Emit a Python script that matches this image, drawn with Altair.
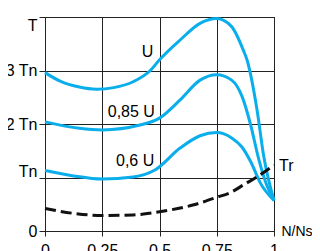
import altair as alt
import pandas as pd

# --- data ---
u_x = [0.0, 0.066, 0.15, 0.225, 0.3, 0.385, 0.46, 0.5, 0.59, 0.677, 0.75, 0.815, 0.866, 0.882, 0.926, 0.955, 1.0]
u_t = [2.96, 2.80, 2.69, 2.65, 2.68, 2.79, 3.0, 3.2, 3.57, 3.88, 3.97, 3.82, 3.38, 3.2, 2.26, 1.4, 0.57]

u85_x = [0.0, 0.15, 0.25, 0.415, 0.5, 0.59, 0.677, 0.75, 0.815, 0.86, 0.897, 0.933, 0.969, 1.0]
u85_t = [2.04, 1.92, 1.89, 1.98, 2.11, 2.45, 2.82, 2.92, 2.82, 2.52, 2.0, 1.35, 0.85, 0.57]

u60_x = [0.0, 0.124, 0.25, 0.385, 0.48, 0.59, 0.677, 0.75, 0.815, 0.86, 0.9, 0.94, 1.0]
u60_t = [1.13, 1.03, 0.97, 1.01, 1.14, 1.55, 1.78, 1.84, 1.74, 1.57, 1.28, 0.9, 0.57]

tr_x = [0.0, 0.124, 0.25, 0.385, 0.5, 0.65, 0.75, 0.815, 0.866, 0.94, 1.0]
tr_t = [0.42, 0.33, 0.29, 0.30, 0.36, 0.49, 0.63, 0.73, 0.86, 1.05, 1.23]

y_ticks = [0, 1, 2, 3, 4]
y_labels = ["0", "Tn", "2 Tn", "3 Tn", "T"]
x_ticks = [0, 0.25, 0.5, 0.75, 1]
x_labels = ["0", "0,25", "0,5", "0,75", "1"]

lab_text = ["U", "0,85 U", "0,6 U"]
lab_x = [0.473, 0.48, 0.477]
lab_t = [3.34, 2.22, 1.31]
tr_lab = ["Tr"]
tr_lab_x = [1.022]
tr_lab_t = [1.21]

# --- tables ---
rows = []
for name, xs, ts in [("U", u_x, u_t), ("0,85 U", u85_x, u85_t), ("0,6 U", u60_x, u60_t)]:
    for a, b in zip(xs, ts):
        rows.append({"x": a, "T": b, "s": name})
blue = pd.DataFrame(rows)
tr = pd.DataFrame({"x": tr_x, "T": tr_t})
labs = pd.DataFrame({"x": lab_x, "T": lab_t, "t": lab_text})
trl = pd.DataFrame({"x": tr_lab_x, "T": tr_lab_t, "t": tr_lab})

def label_expr(vals, labels):
    e = "''"
    for v, l in reversed(list(zip(vals, labels))):
        e = f"datum.value == {v} ? '{l}' : ({e})"
    return e

FONT = "Liberation Sans"

xs = alt.Scale(domain=[0, 1], nice=False)
ys = alt.Scale(domain=[0, 4], nice=False)

x_axis = alt.Axis(values=x_ticks, labelExpr=label_expr(x_ticks, x_labels),
                  grid=True, gridColor="#222222", gridWidth=1,
                  domainColor="#222222", tickColor="#222222", tickSize=5,
                  labelPadding=6, labelFont=FONT, labelFontSize=16, labelColor="black",
                  title="N/Ns", titleFont=FONT,
                  titleFontSize=14, titleFontWeight="normal",
                  titleColor="black", titleX=236, titleY=0, titleAlign="left",
                  titleBaseline="middle", labelFlush=False)
y_axis = alt.Axis(values=y_ticks, labelExpr=label_expr(y_ticks, y_labels),
                  grid=True, gridColor="#222222", gridWidth=1,
                  domainColor="#222222", tickColor="#222222", tickSize=6,
                  labelPadding=2, labelFont=FONT, labelFontSize=16, labelColor="black",
                  labelBaseline=alt.condition("datum.value == 4", alt.value("top"),
                                              alt.value("middle")),
                  labelOffset=alt.condition("datum.value == 1", alt.value(-6),
                                            alt.value(0)),
                  labelFlush=False)

base_x = alt.X("x:Q", scale=xs, axis=x_axis)
base_y = alt.Y("T:Q", scale=ys, axis=y_axis, title=None)

blue_lines = alt.Chart(blue).mark_line(color="#0AAEEB", strokeWidth=3,
                                       interpolate="monotone").encode(
    x=base_x, y=base_y, detail="s:N")
tr_line = alt.Chart(tr).mark_line(color="#111111", strokeWidth=3, strokeDash=[11, 5],
                                  interpolate="monotone").encode(
    x=alt.X("x:Q", scale=xs), y=alt.Y("T:Q", scale=ys))
text1 = alt.Chart(labs).mark_text(align="right", baseline="middle", font=FONT,
                                  fontSize=16, color="black").encode(
    x=alt.X("x:Q", scale=xs), y=alt.Y("T:Q", scale=ys), text="t:N")
text2 = alt.Chart(trl).mark_text(align="left", baseline="middle", font=FONT,
                                 fontSize=16, color="black").encode(
    x=alt.X("x:Q", scale=xs), y=alt.Y("T:Q", scale=ys), text="t:N")

chart = alt.layer(blue_lines, tr_line, text1, text2).properties(
    width=229, height=214,
    autosize=alt.AutoSizeParams(type="none"),
    padding={"left": 37, "top": 9, "right": 38, "bottom": 20},
    background="white",
).configure_view(stroke="#222222", strokeWidth=1)

chart.save("out.html", embed_options={"renderer": "svg", "actions": False})
